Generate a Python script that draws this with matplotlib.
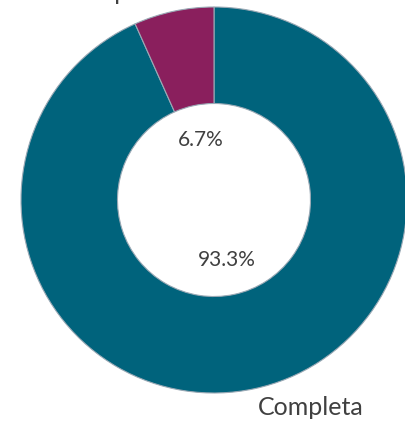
import matplotlib
matplotlib.use("Agg")
import matplotlib.pyplot as plt

categories = ["Completa", "Incompleta"]
shares = [93.3, 6.7]
colors = ["#00637c", "#8a1f5d"]

plt.rcParams["font.family"] = ["Lato", "DejaVu Sans"]

fig = plt.figure(figsize=(4.05, 4.25), dpi=100)
ax = fig.add_axes([21 / 405, 32 / 425, 386 / 405, 386 / 425])
wedges, texts, autotexts = ax.pie(
    shares, labels=categories, colors=colors, startangle=90, counterclock=False,
    autopct="%1.1f%%", pctdistance=0.32, labeldistance=1.1,
    wedgeprops=dict(width=0.5, edgecolor="#9aa9b5", linewidth=0.8),
    textprops=dict(color="#404040", fontsize=18),
)
for t in autotexts:
    t.set_fontsize(15)
    t.set_color("#404040")
ax.set_xlim(-1, 1)
ax.set_ylim(-1, 1)
ax.set_aspect("auto")
ax.axis("off")
fig.savefig("out.png", dpi=100)
